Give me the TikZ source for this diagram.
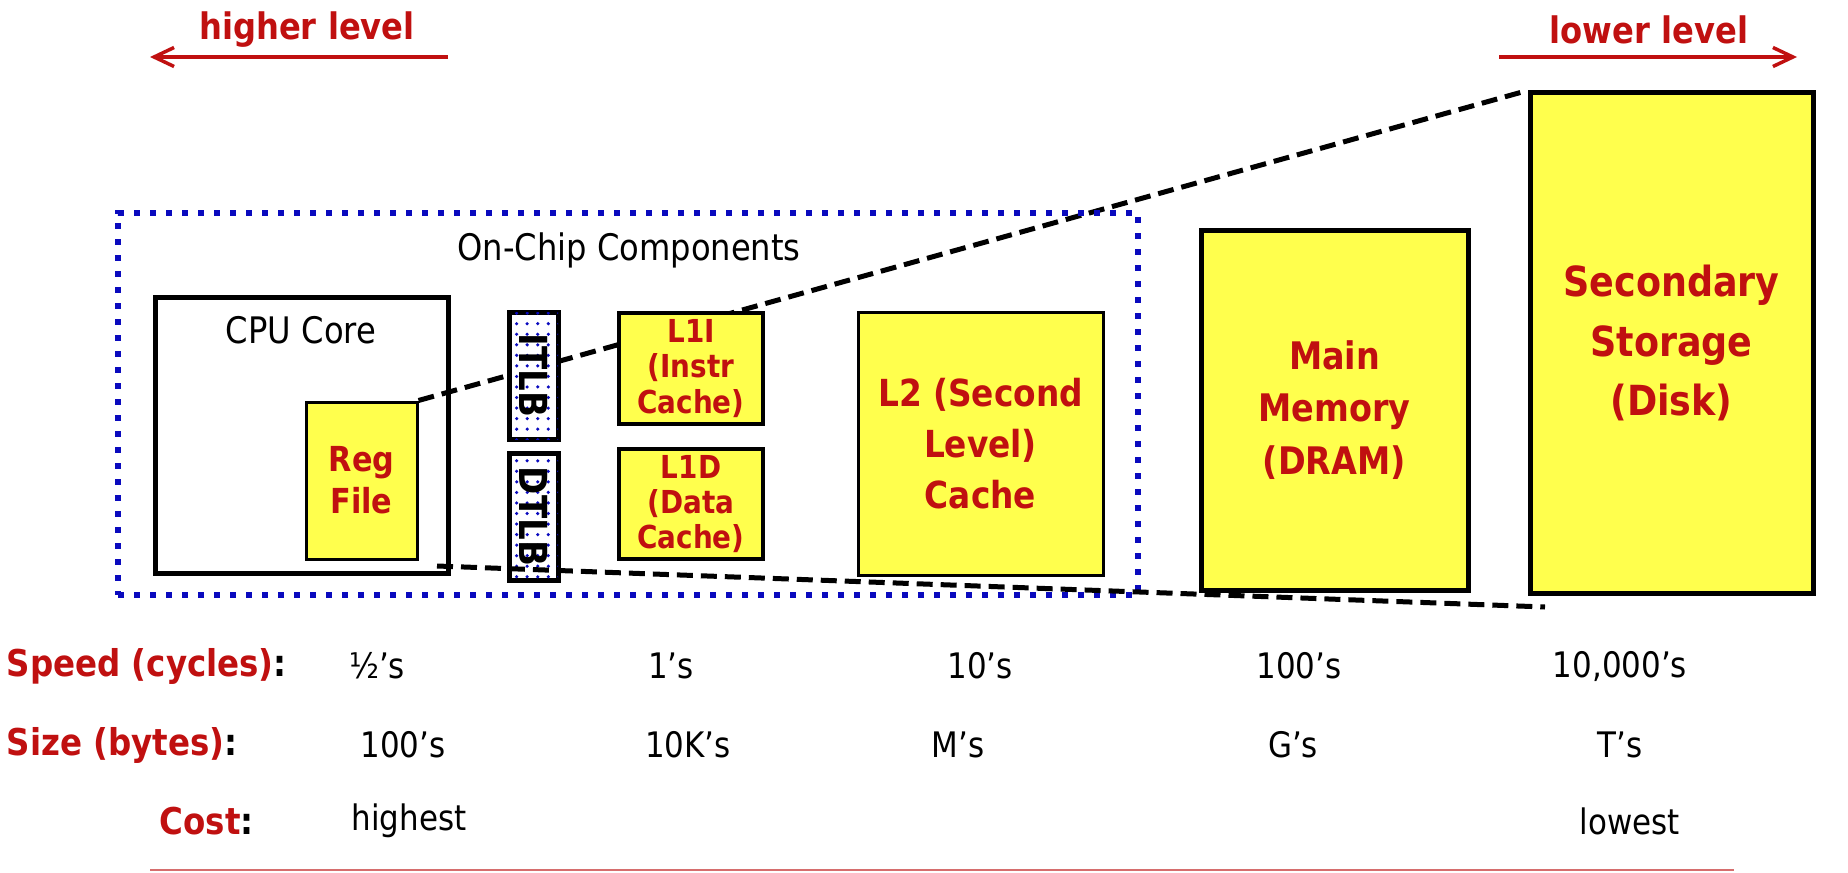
\documentclass[tikz,border=0pt]{standalone}
\usepackage{fontspec}
\setmainfont{DejaVu Sans}[FakeStretch=0.88]
\usetikzlibrary{positioning, patterns, backgrounds, arrows.meta}
\definecolor{darkred}{RGB}{192,16,16}
\definecolor{chipblue}{RGB}{10,10,190}
\definecolor{boxyellow}{RGB}{255,255,77}
\definecolor{rulered}{RGB}{214,110,110}

\begin{document}
\begin{tikzpicture}[
    plain/.style={inner sep=0pt, font=\fontsize{10.4}{12}\selectfont},
    toptext/.style={inner sep=0pt, text=darkred, font=\bfseries\fontsize{10.4}{12}\selectfont},
    levelarrow/.style={darkred, line width=0.035cm, -{Straight Barb[length=0.2cm, width=0.19cm]}},
    memblock/.style={draw, line width=0.05cm, fill=boxyellow, align=center, inner sep=0pt, text=darkred},
    tlb/.style={draw, line width=0.05cm, fill=white, postaction={pattern=dots, pattern color=chipblue},
        minimum width=1.27cm, minimum height=0.49cm, inner sep=0pt, rotate=-90, font=\bfseries\fontsize{11}{12}\selectfont},
    zoomline/.style={line width=0.05cm, dash pattern=on 0.16cm off 0.08cm},
    rowlabel/.style={anchor=west, inner sep=0pt, font=\bfseries\fontsize{10.5}{12}\selectfont},
    rowvalue/.style={inner sep=0pt, font=\fontsize{10}{12}\selectfont}
]
            \useasboundingbox (0,0) rectangle (18.48,-8.72);

            % Level arrows
            \node[toptext] (higher) at (3.07,-0.30) {higher level};
            \node[toptext] (lower) at (16.49,-0.30) {lower level};
            \coordinate (higherR) at (4.48,-0.57);
            \coordinate (higherL) at (1.50,-0.57);
            \coordinate (lowerL) at (14.99,-0.57);
            \coordinate (lowerR) at (17.97,-0.57);
            \draw[levelarrow] (higherR) -- (higherL);
            \draw[levelarrow] (lowerL) -- (lowerR);

            % On-chip part
            \node[draw=chipblue, line width=0.055cm, dash pattern=on 0.06cm off 0.1cm, minimum width=10.20cm, minimum height=3.82cm] (chip) at (6.28,-4.04) {};
            \node[plain] (chiplabel) at (6.29,-2.50) {On-Chip Components};
            \node[draw, line width=0.05cm, minimum width=2.93cm, minimum height=2.76cm] (cpu) at (3.015,-4.35) {};
            \node[plain] (cpulabel) at (3.01,-3.30) {CPU Core};
            \node[memblock, line width=0.03cm, minimum width=1.11cm, minimum height=1.57cm, font=\bfseries\fontsize{9.8}{12}\selectfont] (reg) at (3.615,-4.805) {Reg\\File};
            \node[tlb] (itlb) at (5.335,-3.755) {ITLB};
            \node[tlb] (dtlb) at (5.335,-5.165) {DTLB};
            \node[memblock, line width=0.04cm, minimum width=1.44cm, minimum height=1.11cm, font=\bfseries\fontsize{9}{10}\selectfont] (l1i) at (6.91,-3.685) {L1I\\(Instr\\Cache)};
            \node[memblock, line width=0.04cm, minimum width=1.44cm, minimum height=1.10cm, font=\bfseries\fontsize{9}{10}\selectfont] (l1d) at (6.91,-5.04) {L1D\\(Data\\Cache)};
            \node[memblock, line width=0.03cm, minimum width=2.45cm, minimum height=2.63cm, font=\bfseries\fontsize{10.6}{14.5}\selectfont] (l2) at (9.805,-4.435) {L2 (Second\\Level)\\Cache};

            % Off-chip part
            \node[memblock, minimum width=2.67cm, minimum height=3.60cm, font=\bfseries\fontsize{10.8}{15}\selectfont] (mem) at (13.345,-4.10) {Main\\Memory\\(DRAM)};
            \node[memblock, minimum width=2.83cm, minimum height=5.00cm, font=\bfseries\fontsize{11.8}{17}\selectfont] (disk) at (16.715,-3.43) {Secondary\\Storage\\(Disk)};

            % Zoom lines
            \begin{scope}[on background layer]
                \draw[zoomline] (reg.north east) -- (disk.north west);
            \end{scope}
            \coordinate (zoomL) at (4.37,-5.66);
            \coordinate (zoomR) at (15.45,-6.07);
            \draw[zoomline] (zoomL) -- (zoomR);

            % Rows
            \node[rowlabel] (speed) at (0.06,-6.66) {\textcolor{darkred}{Speed (cycles)}:};
            \node[rowlabel] (size) at (0.06,-7.45) {\textcolor{darkred}{Size (bytes)}:};
            \node[rowlabel] (cost) at (1.59,-8.21) {\textcolor{darkred}{Cost}:};
            \node[rowvalue] (speed1) at (3.77,-6.66) {½’s};
            \node[rowvalue] (speed2) at (6.71,-6.66) {1’s};
            \node[rowvalue] (speed3) at (9.80,-6.66) {10’s};
            \node[rowvalue] (speed4) at (12.99,-6.66) {100’s};
            \node[rowvalue] (speed5) at (16.20,-6.66) {10,000’s};
            \node[rowvalue] (size1) at (4.03,-7.45) {100’s};
            \node[rowvalue] (size2) at (6.88,-7.45) {10K’s};
            \node[rowvalue] (size3) at (9.58,-7.45) {M’s};
            \node[rowvalue] (size4) at (12.93,-7.45) {G’s};
            \node[rowvalue] (size5) at (16.20,-7.45) {T’s};
            \node[rowvalue] (cost1) at (4.09,-8.21) {highest};
            \node[rowvalue] (cost2) at (16.30,-8.21) {lowest};

            \coordinate (ruleL) at (1.50,-8.70);
            \coordinate (ruleR) at (17.34,-8.70);
            \draw[rulered, line width=0.02cm] (ruleL) -- (ruleR);

        \end{tikzpicture}
\end{document}
